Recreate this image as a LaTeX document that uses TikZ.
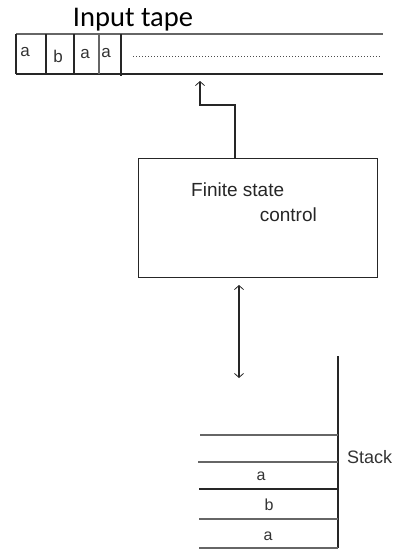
\documentclass[tikz,border=0pt]{standalone}
\usepackage{fontspec}
\setmainfont{Liberation Sans}
\newfontfamily\titlefont{Carlito}
\usetikzlibrary{arrows.meta}
\begin{document}
\begin{tikzpicture}[x=1pt,y=-1pt,
  ln/.style={line width=1.1pt,black!85},
  gln/.style={line width=1.1pt,black!60},
  lbl/.style={inner sep=0pt,font=\fontsize{17}{17}\selectfont,text=black!80},
  tip/.style={-{Straight Barb[length=4pt,width=9pt,line width=0.8pt]}},
  dtip/.style={{Straight Barb[length=4pt,width=9pt,line width=0.8pt]}-{Straight Barb[length=4pt,width=9pt,line width=0.8pt]}}]
\useasboundingbox (0,0) rectangle (398,550);
% input tape
\node[inner sep=0pt,font=\titlefont\fontsize{28.5}{28.5}\selectfont] (title) at (133,20) {Input tape};
\coordinate (tTL) at (16,34);
\coordinate (tTR) at (383,34);
\coordinate (tBL) at (16,74);
\coordinate (tBR) at (383,74);
\draw[gln] (tTL) -- (tTR);
\draw[ln] (tBL) -- (tBR);
\draw[ln] (tTL) -- (tBL);
\coordinate (d1t) at (46,34); \coordinate (d1b) at (46,74);
\coordinate (d2t) at (74,34); \coordinate (d2b) at (74,74);
\coordinate (d3t) at (99,34); \coordinate (d3b) at (99,74);
\coordinate (d4t) at (121,34); \coordinate (d4b) at (121,76);
\draw[ln] (d1t) -- (d1b);
\draw[ln] (d2t) -- (d2b);
\draw[gln] (d3t) -- (d3b);
\draw[ln] (d4t) -- (d4b);
\node[lbl] (c1) at (25,52) {a};
\node[lbl] (c2) at (58,56) {b};
\node[lbl] (c3) at (85,54) {a};
\node[lbl] (c4) at (106,53) {a};
\coordinate (dotA) at (133,56);
\coordinate (dotB) at (381,56);
\draw[black!70,line width=0.6pt,dash pattern=on 0.6pt off 2.4pt] (dotA) -- (dotB);
% finite state control
\node[draw,line width=1.1pt,draw=black!85,minimum width=239pt,minimum height=119pt,anchor=north west,inner sep=0pt] (fsc) at (138,158) {};
\node[anchor=base west,inner sep=0pt,font=\fontsize{19}{19}\selectfont,text=black!85] (t1) at (191,196) {Finite state};
\node[anchor=base east,inner sep=0pt,font=\fontsize{19}{19}\selectfont,text=black!85] (t2) at (317,221) {control};
\coordinate (up1) at (235,105);
\coordinate (up2) at (200,105);
\coordinate (upend) at (200,81);
\draw[ln,tip] (fsc.north -| up1) -- (up1) -- (up2) -- (upend);
% double arrow
\coordinate (da1) at (239,285);
\coordinate (da2) at (239,378);
\draw[ln,dtip] (da1) -- (da2);
% stack
\coordinate (sTop) at (338,356);
\coordinate (sBot) at (338,548);
\draw[ln] (sTop) -- (sBot);
\coordinate (h1) at (200,435);
\coordinate (h2) at (198,462);
\coordinate (h3) at (199,489);
\coordinate (h4) at (199,519);
\coordinate (h5) at (199,548);
\draw[gln] (h1) -- (h1 -| sTop);
\draw[gln] (h2) -- (h2 -| sTop);
\draw[ln] (h3) -- (h3 -| sTop);
\draw[gln] (h4) -- (h4 -| sTop);
\draw[gln] (h5) -- (h5 -| sTop);
\node[lbl,font=\fontsize{16}{16}\selectfont] (s1) at (261,476) {a};
\node[lbl,font=\fontsize{16}{16}\selectfont] (s2) at (269,505) {b};
\node[lbl,font=\fontsize{16}{16}\selectfont] (s3) at (268,536) {a};
\node[anchor=west,inner sep=0pt,font=\fontsize{18}{18}\selectfont,text=black!80] (stk) at (347,457) {Stack};
\end{tikzpicture}
\end{document}
